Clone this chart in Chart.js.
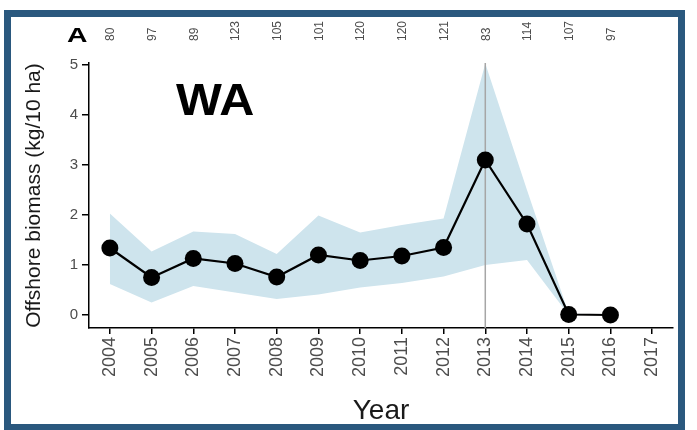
<!DOCTYPE html>
<html>
<head>
<meta charset="utf-8">
<script src="https://cdn.jsdelivr.net/npm/chart.js@4"></script>
<style>
  html, body { margin: 0; padding: 0; background: #fff; }
  canvas { display: block; }
</style>
</head>
<body>
<canvas id="chart" width="697" height="430"></canvas>
<script>
// Survey years on the x axis
const years = ['2004','2005','2006','2007','2008','2009','2010','2011','2012','2013','2014','2015','2016','2017'];
// Mean offshore biomass (kg/10 ha)
const biomass = [1.34, 0.75, 1.13, 1.03, 0.76, 1.20, 1.09, 1.18, 1.35, 3.10, 1.82, 0.01, 0.00, null];
// Confidence band around the mean
const upperCI = [2.03, 1.27, 1.67, 1.62, 1.22, 1.99, 1.65, 1.80, 1.93, 5.03, 2.50, 0.03, 0.00, null];
const lowerCI = [0.62, 0.25, 0.58, 0.45, 0.32, 0.41, 0.55, 0.64, 0.77, 1.00, 1.10, 0.00, 0.00, null];
// Number of samples per year, printed above the panel
const sampleSizes = [80, 97, 89, 123, 105, 101, 120, 120, 121, 83, 114, 107, 97];
// Y axis tick values
const yTicks = [0, 1, 2, 3, 4, 5];
// Year marked with a vertical reference line
const markerYear = '2013';

const FONT = '"Liberation Sans", Arial, sans-serif';

// Draws bold text widened horizontally by sx
function wideText(ctx, text, x, y, size, sx) {
  ctx.save();
  ctx.font = 'bold ' + size + 'px ' + FONT;
  ctx.textAlign = 'left';
  ctx.textBaseline = 'alphabetic';
  ctx.setTransform(sx, 0, 0, 1, x, y);
  ctx.fillText(text, 0, 0);
  ctx.restore();
}

const panelDecor = {
  id: 'panelDecor',
  beforeDraw(chart) {
    const ctx = chart.ctx;
    ctx.save();
    ctx.fillStyle = '#fff';
    ctx.fillRect(0, 0, chart.width, chart.height);
    ctx.restore();
  },
  beforeDatasetDraw(chart, args) {
    // reference line sits above the band but below the mean line
    if (args.index !== 2) return;
    const { ctx, chartArea, scales } = chart;
    const x = scales.x.getPixelForValue(years.indexOf(markerYear));
    ctx.save();
    ctx.strokeStyle = '#a6a6a6';
    ctx.lineWidth = 1.5;
    ctx.beginPath();
    ctx.moveTo(x, chartArea.top);
    ctx.lineTo(x, chartArea.bottom);
    ctx.stroke();
    ctx.restore();
  },
  afterDraw(chart) {
    const { ctx, scales } = chart;
    ctx.save();
    // sample sizes along the top
    ctx.fillStyle = '#4d4d4d';
    ctx.font = '12px ' + FONT;
    ctx.textAlign = 'left';
    ctx.textBaseline = 'middle';
    sampleSizes.forEach((n, i) => {
      const x = scales.x.getPixelForValue(i);
      ctx.save();
      ctx.translate(x + 1, 41);
      ctx.rotate(-Math.PI / 2);
      ctx.fillText(String(n), 0, 0);
      ctx.restore();
    });
    // panel letter and region label
    ctx.fillStyle = '#000';
    wideText(ctx, 'A', 67, 42, 21, 1.35);
    wideText(ctx, 'WA', 176, 115, 45, 1.08);
    // frame
    ctx.strokeStyle = '#2a587e';
    ctx.lineWidth = 7;
    ctx.strokeRect(7.5, 13.5, 674, 414);
    ctx.restore();
  }
};

new Chart(document.getElementById('chart'), {
  type: 'line',
  data: {
    labels: years,
    datasets: [
      {
        label: 'lower',
        data: lowerCI,
        order: 2,
        borderWidth: 0,
        pointRadius: 0,
        fill: false,
        tension: 0
      },
      {
        label: 'upper',
        data: upperCI,
        order: 2,
        borderWidth: 0,
        pointRadius: 0,
        backgroundColor: 'rgb(206,228,237)',
        fill: '-1',
        tension: 0
      },
      {
        label: 'biomass',
        data: biomass,
        order: 0,
        borderColor: '#000',
        borderWidth: 2.2,
        backgroundColor: '#000',
        pointRadius: 8.5,
        pointBackgroundColor: '#000',
        pointBorderWidth: 0,
        fill: false,
        tension: 0,
        clip: false
      }
    ]
  },
  options: {
    responsive: false,
    animation: false,
    devicePixelRatio: 1,
    layout: { padding: { left: 12, right: 24, top: 63, bottom: 0 } },
    plugins: {
      legend: { display: false },
      tooltip: { enabled: false },
      filler: { propagate: false }
    },
    scales: {
      x: {
        type: 'category',
        offset: true,
        afterFit(scale) { scale.height = 102; },
        grid: {
          display: true,
          drawOnChartArea: false,
          drawTicks: true,
          tickLength: 6,
          color: '#000',
          lineWidth: 1.5
        },
        border: { display: true, color: '#000', width: 1.5 },
        ticks: {
          autoSkip: false,
          minRotation: 90,
          maxRotation: 90,
          padding: 3,
          color: '#4d4d4d',
          font: { size: 18, family: FONT }
        },
        title: {
          display: true,
          text: 'Year',
          color: '#1a1a1a',
          font: { size: 28, family: FONT },
          padding: { top: 0, bottom: 2 }
        }
      },
      y: {
        type: 'linear',
        min: -0.26,
        max: 5.04,
        afterFit(scale) { scale.width = 77; },
        afterBuildTicks(scale) { scale.ticks = yTicks.map(v => ({ value: v })); },
        grid: {
          display: true,
          drawOnChartArea: false,
          drawTicks: true,
          tickLength: 7,
          color: '#000',
          lineWidth: 1.5
        },
        border: { display: true, color: '#000', width: 1.5 },
        ticks: {
          padding: 4,
          color: '#4d4d4d',
          font: { size: 15, family: FONT }
        },
        title: {
          display: true,
          text: 'Offshore biomass (kg/10 ha)',
          color: '#1a1a1a',
          font: { size: 21, family: FONT },
          padding: { top: 10, bottom: 0 }
        }
      }
    }
  },
  plugins: [panelDecor]
});
</script>
</body>
</html>
